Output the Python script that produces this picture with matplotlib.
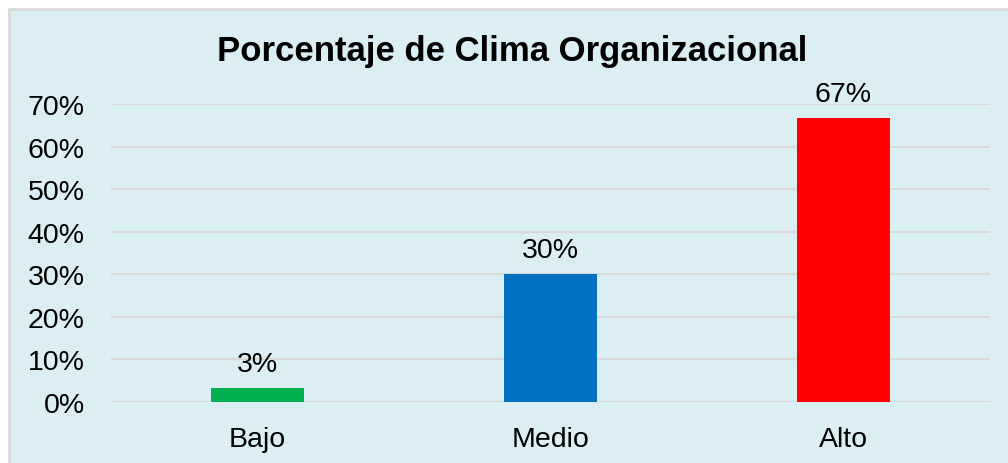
import matplotlib.pyplot as plt
from matplotlib.patches import Rectangle

categories = ['Bajo', 'Medio', 'Alto']
values = [3.3, 30.0, 66.7]
labels = ['3%', '30%', '67%']
colors = ['#00B050', '#0070C0', '#FF0000']
yticks = [0, 10, 20, 30, 40, 50, 60, 70]

plt.rcParams['font.family'] = ['Liberation Sans', 'DejaVu Sans']

fig = plt.figure(figsize=(10.08, 4.64), dpi=100)
fig.patch.set_facecolor('white')

# chart area background, border cut off at right and bottom edges
bg = Rectangle((9 / 1008, -0.05), 1.05, (464 - 10) / 464 + 0.05,
               transform=fig.transFigure, facecolor='#DBEEF4',
               edgecolor='#D9D9D9', linewidth=2, zorder=-10)
fig.patches.append(bg)

ax = fig.add_axes([111 / 1008, 1 - 403 / 464, 879 / 1008, 298 / 464])
ax.set_facecolor('none')
ax.set_zorder(1)

x = list(range(len(categories)))
ax.bar(x, values, width=0.314, color=colors, zorder=3)

for xi, v, lab in zip(x, values, labels):
    ax.annotate(lab, (xi, v), xytext=(0, 8), textcoords='offset points',
                ha='center', va='bottom', fontsize=20.5, color='#000000')

ax.set_xlim(-0.5, 2.5)
ax.set_ylim(0, 70)
ax.set_yticks(yticks)
ax.set_yticklabels([f'{t}%' for t in yticks])
ax.set_xticks(x)
ax.set_xticklabels(categories)
ax.tick_params(axis='both', length=0, labelsize=20.5, colors='#000000')
ax.tick_params(axis='y', pad=19)
ax.tick_params(axis='x', pad=17)

ax.yaxis.grid(True, color='#D9D9D9', linewidth=1.6, zorder=0)
for s in ax.spines.values():
    s.set_visible(False)

fig.text(512 / 1008, 1 - 51 / 464, 'Porcentaje de Clima Organizacional',
         ha='center', va='center', fontsize=25, fontweight='bold')

fig.savefig('out.png', dpi=100)
